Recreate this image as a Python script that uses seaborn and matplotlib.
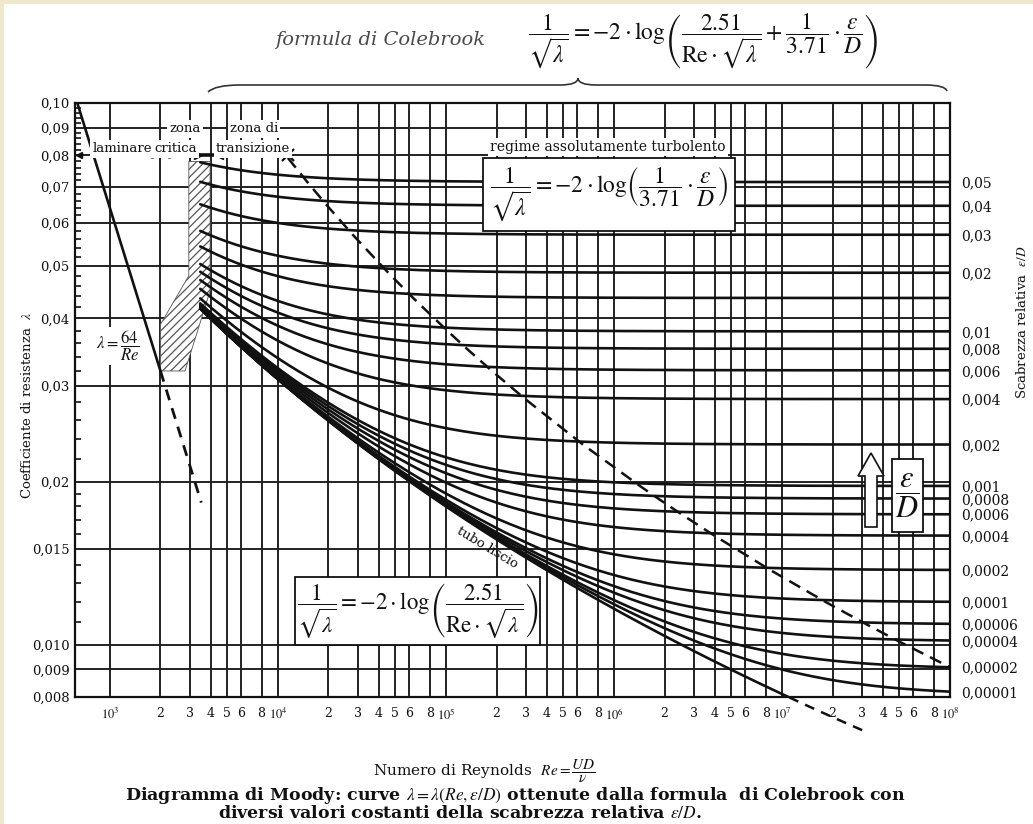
import numpy as np
import pandas as pd
import matplotlib
matplotlib.use("Agg")
import matplotlib.pyplot as plt
import seaborn as sns
from matplotlib.patches import Polygon, Rectangle, PathPatch
from matplotlib.path import Path
from matplotlib.ticker import NullFormatter

# ---------------------------------------------------------------- data ----
# relative roughness eps/D of the curve family (0.0 = smooth pipe)
roughness = [0.05, 0.04, 0.03, 0.02, 0.015, 0.01, 0.008, 0.006, 0.004, 0.002,
             0.001, 0.0008, 0.0006, 0.0004, 0.0002, 0.0001, 0.00006, 0.00004,
             0.00002, 0.00001, 0.0]

# roughness values printed on the right-hand scale
roughness_ticks = [0.05, 0.04, 0.03, 0.02, 0.01, 0.008, 0.006, 0.004, 0.002,
                   0.001, 0.0008, 0.0006, 0.0004, 0.0002, 0.0001, 0.00006,
                   0.00004, 0.00002, 0.00001]
roughness_labels = ["0,05", "0,04", "0,03", "0,02", "0,01", "0,008", "0,006",
                    "0,004", "0,002", "0,001", "0,0008", "0,0006", "0,0004",
                    "0,0002", "0,0001", "0,00006", "0,00004", "0,00002",
                    "0,00001"]

# friction factor scale (left)
lam_ticks = [0.008, 0.009, 0.010, 0.015, 0.02, 0.03, 0.04, 0.05, 0.06, 0.07,
             0.08, 0.09, 0.10]
lam_labels = ["0,008", "0,009", "0,010", "0,015", "0,02", "0,03", "0,04",
              "0,05", "0,06", "0,07", "0,08", "0,09", "0,10"]

# Reynolds scale
re_multipliers = [1, 2, 3, 4, 5, 6, 8]
re_decades = [3, 4, 5, 6, 7]
re_minor_multipliers = [1.5, 2.5, 3.5, 4.5, 7, 9]

# Reynolds limits of the different regimes
re_min, re_max = 620, 1e8
re_laminar = [re_min, 2000]          # laminar flow, lambda = 64/Re
re_laminar_ext = [2000, 3500]        # laminar law continued (dashed)
re_turb_start = 3450                 # start of the Colebrook curves
re_smooth_ext_end = 3e7              # smooth-pipe curve continued below axis
lam_min, lam_max = 0.008, 0.10

# limit of the fully rough regime: Re * sqrt(lambda) * eps/D = 200
rough_limit_const = 200
rough_limit_top_roughness = 0.062

# hatched critical zone (Re, lambda)
critical_zone = [(2950, 0.078), (3950, 0.078), (3950, 0.045), (2800, 0.032),
                 (2000, 0.032), (2000, 0.039), (2950, 0.048)]


def colebrook(re, rr):
    """Solve 1/sqrt(l) = -2 log(2.51/(Re sqrt(l)) + rr/3.71) by iteration."""
    re = np.asarray(re, dtype=float)
    lam = np.full(re.shape, 0.03)
    for _ in range(60):
        lam = 1.0 / (-2.0 * np.log10(2.51 / (re * np.sqrt(lam)) + rr / 3.71)) ** 2
    return lam


def rough_lambda(rr):
    rr = np.asarray(rr, dtype=float)
    return 1.0 / (-2.0 * np.log10(rr / 3.71)) ** 2


# ---------------------------------------------------------------- style ---
sns.set_style("white")
plt.rcParams["font.family"] = ["DejaVu Serif"]
plt.rcParams["mathtext.fontset"] = "stix"
plt.rcParams["hatch.linewidth"] = 0.9

W, H = 1033, 824
INK = "#111111"
GRID = "#222222"


def fx(x):
    return x / W


def fy(y):
    return 1 - y / H


fig = plt.figure(figsize=(W / 100, H / 100), dpi=100)
fig.patch.set_facecolor("white")

ax = fig.add_axes([fx(75), fy(697), (950 - 75) / W, (697 - 103) / H])
ax.set_xscale("log")
ax.set_yscale("log")
ax.set_xlim(re_min, re_max)
ax.set_ylim(lam_min, lam_max)

# grid
re_ticks = [m * 10 ** d for d in re_decades for m in re_multipliers] + [10 ** 8]
re_labels = []
for d in re_decades:
    for m in re_multipliers:
        re_labels.append(r"$10^{%d}$" % d if m == 1 else str(m))
re_labels.append(r"$10^{8}$")
re_minor = [m * 10 ** d for d in [2] + re_decades for m in re_minor_multipliers
            if re_min < m * 10 ** d < re_max]

for v in re_ticks[:-1]:
    ax.axvline(v, color=GRID, lw=1.4, zorder=1)
for h in lam_ticks[:-1]:
    ax.axhline(h, color=GRID, lw=1.4, zorder=1)

ax.set_xticks(re_ticks)
ax.set_xticklabels(re_labels)
ax.set_xticks(re_minor, minor=True)
ax.xaxis.set_minor_formatter(NullFormatter())
ax.set_yticks(lam_ticks)
ax.set_yticklabels(lam_labels)
lam_minor = [v for v in np.round(np.arange(0.009, 0.1, 0.001), 3)
             if v < 0.02 and v not in lam_ticks] + \
            [v for v in np.round(np.arange(0.022, 0.1, 0.002), 3)
             if v not in lam_ticks]
ax.set_yticks(lam_minor, minor=True)
ax.yaxis.set_minor_formatter(NullFormatter())
ax.tick_params(axis="x", which="major", length=0, pad=7, labelsize=9,
               colors=INK)
ax.tick_params(axis="y", which="major", length=0, pad=4, labelsize=9.5,
               colors=INK)
ax.tick_params(axis="both", which="minor", direction="in", length=4,
               width=1.2, color=INK)
for s in ax.spines.values():
    s.set_color(INK)
    s.set_linewidth(1.6)

# right-hand scale: roughness at the end of each curve
ax2 = ax.twinx()
ax2.set_yscale("log")
ax2.set_ylim(lam_min, lam_max)
ax2.set_yticks(colebrook(np.full(len(roughness_ticks), re_max),
                         np.array(roughness_ticks)))
ax2.set_yticklabels(roughness_labels)
ax2.set_yticks([], minor=True)
ax2.tick_params(axis="y", length=0, pad=8, labelsize=10, colors=INK)
for s in ax2.spines.values():
    s.set_visible(False)

# hatched critical zone
ax.add_patch(Polygon(critical_zone, closed=True, facecolor="white",
                     edgecolor="#555555", hatch="////", lw=0.6, zorder=1.5))

# Colebrook curves
frames = []
for rr in roughness:
    re = np.geomspace(re_turb_start, re_max, 260)
    frames.append(pd.DataFrame({"Re": re, "lam": colebrook(re, rr), "rr": rr}))
curves = pd.concat(frames, ignore_index=True)
sns.lineplot(data=curves, x="Re", y="lam", units="rr", estimator=None,
             color=INK, lw=1.9, sort=False, legend=False, ax=ax, zorder=3)

# smooth pipe continued beyond the lower edge
re_fine = np.geomspace(re_turb_start, re_smooth_ext_end, 600)
lam_fine = colebrook(re_fine, 0.0)
below = lam_fine <= lam_min
ax.plot(re_fine[below], lam_fine[below], color=INK, lw=1.8,
        ls=(0, (4, 3)), clip_on=False, zorder=3)

# laminar law
laminar = pd.DataFrame({"Re": re_laminar, "lam": 64 / np.array(re_laminar)})
sns.lineplot(data=laminar, x="Re", y="lam", color=INK, lw=1.9, ax=ax,
             legend=False, zorder=3)
lam_ext = np.array(re_laminar_ext, dtype=float)
ax.plot(lam_ext, 64 / lam_ext, color=INK, lw=2.0, ls=(0, (4, 3)), zorder=3)

# limit of the fully rough regime
bound_rr = np.array([rough_limit_top_roughness] + [r for r in roughness if r > 0])
bound_lam = rough_lambda(bound_rr)
bound_re = rough_limit_const / (np.sqrt(bound_lam) * bound_rr)
ax.plot(bound_re, bound_lam, color=INK, lw=1.8, ls=(0, (5, 3)), zorder=3.5)
ax.plot([bound_re[0]], [0.08], marker="x", ms=8, mew=1.6, color=INK,
        zorder=4)

# regime markers on the 0.08 line
ax.plot([re_min * 1.06], [0.08], marker="<", ms=5, color=INK, clip_on=False,
        zorder=4)
ax.plot([1780, 2250], [0.08, 0.08], color=INK, lw=2, zorder=4)
ax.plot([1780], [0.08], marker="o", ms=3.5, color=INK, zorder=4)
ax.plot([2250], [0.08], marker="o", ms=3.5, color=INK, zorder=4)
ax.plot([3300, 4500], [0.08, 0.08], color=INK, lw=2.6, zorder=4)
ax.plot([3350], [0.08], marker=">", ms=6, color=INK, zorder=4)
ax.plot([4450], [0.08], marker="<", ms=6, color=INK, zorder=4)

ax.set_xlabel("")
ax.set_ylabel("")
ax2.set_ylabel("")

# ------------------------------------------------------------ labels -------
white_box = dict(facecolor="white", edgecolor="none", pad=1.5)

fig.text(fx(122), fy(149), "laminare", ha="center", va="center",
         fontsize=9.5, color=INK, bbox=white_box)
fig.text(fx(185), fy(129), "zona", ha="center", va="center", fontsize=9.5,
         color=INK, bbox=white_box)
fig.text(fx(176), fy(149), "critica", ha="center", va="center",
         fontsize=9.5, color=INK, bbox=white_box)
fig.text(fx(254), fy(129), "zona di", ha="center", va="center",
         fontsize=9.5, color=INK, bbox=white_box)
fig.text(fx(253), fy(149), "transizione", ha="center", va="center",
         fontsize=9.5, color=INK, bbox=white_box)
fig.text(fx(608), fy(147), "regime assolutamente turbolento", ha="center",
         va="center", fontsize=10, color=INK, bbox=white_box)

fig.text(fx(118), fy(346), r"$\lambda = \dfrac{64}{Re}$", ha="center",
         va="center", fontsize=12, color=INK, bbox=white_box)

fig.text(fx(487), fy(548), "tubo liscio", ha="center", va="center",
         fontsize=9.5, color=INK, rotation=-31)


# formula boxes
def formula_box(x0, y0, x1, y1, tex, size):
    fig.patches.append(Rectangle((fx(x0), fy(y1)), (x1 - x0) / W,
                                 (y1 - y0) / H, transform=fig.transFigure,
                                 facecolor="white", edgecolor=INK, lw=1.3,
                                 zorder=5))
    fig.text(fx((x0 + x1) / 2), fy((y0 + y1) / 2), tex, ha="center",
             va="center", fontsize=size, color=INK, zorder=6)


formula_box(483, 158, 735, 231,
            r"$\dfrac{1}{\sqrt{\lambda}} = -2\cdot\log\!\left(\dfrac{1}{3.71}"
            r"\cdot\dfrac{\varepsilon}{D}\right)$", 17)
formula_box(295, 577, 540, 645,
            r"$\dfrac{1}{\sqrt{\lambda}} = -2\cdot\log\!\left(\dfrac{2.51}"
            r"{\mathrm{Re}\cdot\sqrt{\lambda}}\right)$", 16.5)

# eps/D arrow and box
arrow = [(865, 527), (877, 527), (877, 476), (884, 476), (871, 453),
         (858, 476), (865, 476)]
fig.patches.append(Polygon([(fx(x), fy(y)) for x, y in arrow], closed=True,
                           transform=fig.transFigure, facecolor="white",
                           edgecolor=INK, lw=1.2, zorder=5))
formula_box(892, 459, 923, 532, r"$\dfrac{\varepsilon}{D}$", 22)

# Colebrook formula above the chart
fig.text(fx(380), fy(40), "formula di Colebrook", ha="center", va="center",
         fontsize=14, style="italic", color="#4a4a4a")
fig.text(fx(703), fy(42),
         r"$\dfrac{1}{\sqrt{\lambda}} = -2\cdot\log\!\left(\dfrac{2.51}"
         r"{\mathrm{Re}\cdot\sqrt{\lambda}} + \dfrac{1}{3.71}\cdot"
         r"\dfrac{\varepsilon}{D}\right)$",
         ha="center", va="center", fontsize=17, color=INK)

# curly brace spanning the Colebrook curves
brace = Path([(fx(208), fy(92)), (fx(215), fy(85)), (fx(240), fy(85)),
              (fx(560), fy(85)), (fx(578), fy(85)), (fx(578), fy(78)),
              (fx(578), fy(85)), (fx(596), fy(85)),
              (fx(925), fy(85)), (fx(945), fy(85)), (fx(947), fy(91))],
             [Path.MOVETO, Path.CURVE3, Path.CURVE3, Path.LINETO,
              Path.CURVE3, Path.CURVE3, Path.CURVE3, Path.CURVE3,
              Path.LINETO, Path.CURVE3, Path.CURVE3])
fig.patches.append(PathPatch(brace, transform=fig.transFigure,
                             facecolor="none", edgecolor="#333333", lw=1.2))

# axis titles
fig.text(fx(27), fy(405), r"Coefficiente di resistenza  $\lambda$",
         rotation=90, ha="center", va="center", fontsize=9.5, color=INK)
fig.text(fx(1022), fy(322), r"Scabrezza relativa  $\varepsilon/D$",
         rotation=90, ha="center", va="center", fontsize=9.5, color=INK)
fig.text(fx(484), fy(772), r"Numero di Reynolds  $Re = \dfrac{UD}{\nu}$",
         ha="center", va="center", fontsize=11, color=INK)

# caption
fig.text(fx(125), fy(795),
         r"Diagramma di Moody: curve $\lambda = \lambda(Re, \varepsilon/D)$ "
         r"ottenute dalla formula  di Colebrook con",
         ha="left", va="center", fontsize=12.5, fontweight="bold", color=INK)
fig.text(fx(218), fy(813),
         r"diversi valori costanti della scabrezza relativa $\varepsilon/D$.",
         ha="left", va="center", fontsize=12.5, fontweight="bold", color=INK)

# scanned-page margin
fig.patches.append(Rectangle((0, fy(4)), 1, 4 / H, transform=fig.transFigure,
                             facecolor="#efe8cc", edgecolor="none", zorder=7))
fig.patches.append(Rectangle((0, 0), 4 / W, 1, transform=fig.transFigure,
                             facecolor="#efe8cc", edgecolor="none", zorder=7))

fig.savefig("out.png", dpi=100)
